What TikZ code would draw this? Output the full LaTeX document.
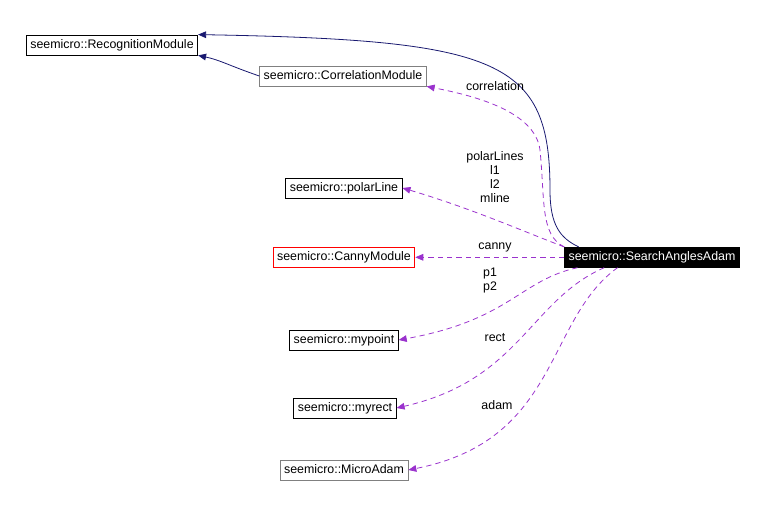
\documentclass[tikz,border=0pt]{standalone}
\usepackage{fontspec}
\setmainfont{Liberation Sans}
\usetikzlibrary{arrows.meta}
\definecolor{edgeblue}{RGB}{25,25,112}
\definecolor{edgepurple}{RGB}{154,50,205}
\begin{document}
\begin{tikzpicture}[x=0.75pt,y=-0.75pt,font=\fontsize{9.3}{10.5}\selectfont,line width=0.6pt]
\tikzset{
cls/.style={draw, inner sep=0pt, minimum height=15pt, text height=7pt, text depth=2pt, inner xsep=3pt}, % class box
gray cls/.style={cls, draw=gray},
inherit/.style={draw=edgeblue, -{Triangle[length=6pt,width=5pt]}},
uses/.style={color=edgepurple, dashed, dash pattern=on 4pt off 3pt, -{Triangle[length=6pt,width=5pt]}},
lbl/.style={align=center, inner sep=0pt},
}
\useasboundingbox (0,0) rectangle (764,505);
	\node[cls] (rec) at (112,45) {seemicro::RecognitionModule};
	\node[gray cls] (corr) at (343,76) {seemicro::CorrelationModule};
	\node[cls] (polar) at (344,188) {seemicro::polarLine};
	\node[cls, draw=red] (canny) at (344,257.3) {seemicro::CannyModule};
	\node[cls, fill=black, text=white] (sa) at (652,257.3) {seemicro::SearchAnglesAdam};
	\node[cls] (mypoint) at (344,340) {seemicro::mypoint};
	\node[cls] (myrect) at (345,408) {seemicro::myrect};
	\node[gray cls] (adam) at (344,470) {seemicro::MicroAdam};

	\coordinate (s0) at ([xshift=-55]sa.north);
	\coordinate (s2) at ([xshift=10]sa.south west);
	\coordinate (s3) at ([xshift=30]sa.south west);
	\coordinate (s4) at ([xshift=40]sa.south west);

	% inheritance
	\draw[inherit] (s0) .. controls (560,238) and (550,225) .. (550,190)
		.. controls (550,60) and (500,40) .. (rec.north east);
	\draw[inherit] (corr.west) .. controls (230,66) and (220,60) .. (rec.south east);

	% usage
	\draw[uses] (sa.north west) .. controls (540,235) and (545,200) .. (540,150)
		.. controls (535,110) and (470,95) .. (corr.south east);
	\draw[uses] (sa.north west) .. controls (520,230) and (470,208) .. (polar.east);
	\draw[uses] (sa.west) -- (canny.east);
	\draw[uses] (s2) .. controls (520,280) and (510,320) .. (mypoint.east);
	\draw[uses] (s3) .. controls (530,300) and (520,380) .. (myrect.east);
	\draw[uses] (s4) .. controls (545,320) and (560,440) .. (adam.east);

	\node[lbl] at (495,86) {correlation};
	\node[lbl] at (495,177) {polarLines\\l1\\l2\\mline};
	\node[lbl] at (495,247) {canny};
	\node[lbl] at (490,281) {p1\\p2};
	\node[lbl] at (495,338) {rect};
	\node[lbl] at (497,405) {adam};
\end{tikzpicture}
\end{document}
